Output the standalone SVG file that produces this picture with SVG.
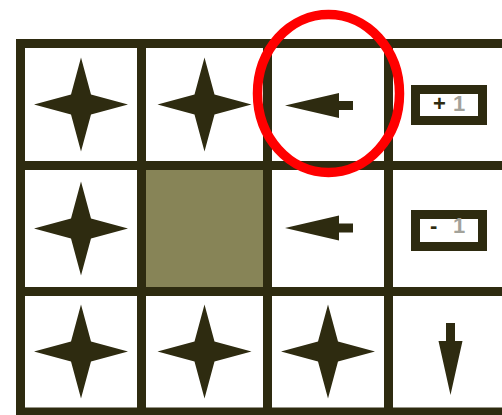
<svg xmlns="http://www.w3.org/2000/svg" width="502" height="415" viewBox="0 0 502 415">
<defs>
<style>
.grid line{stroke:#2e2b10;stroke-width:9}
.ink{fill:#2e2b10}
.box{fill:#ffffff;stroke:#2e2b10;stroke-width:9}
.lbl{font-family:"Liberation Sans",Arial,sans-serif;font-weight:bold;font-size:22px}
</style>
<path id="star" d="M0,-47 L10,-10 L47,0 L10,10 L0,47 L-10,10 L-47,0 L-10,-10 Z"/>
<path id="larrow" d="M0,0 L54,-12.5 L54,-4.5 L68,-4.5 L68,4.5 L54,4.5 L54,12.5 Z"/>
<path id="darrow" d="M0,0 L-12,-54 L-4.5,-54 L-4.5,-72 L4.5,-72 L4.5,-54 L12,-54 Z"/>
</defs>
<rect width="502" height="415" fill="#ffffff"/>
<g id="shaded-cell"><rect x="146" y="170" width="117" height="117" fill="#878457"/></g>
<g id="grid" class="grid">
<line x1="16" y1="43.5" x2="502" y2="43.5"/>
<line x1="16" y1="165.5" x2="502" y2="165.5"/>
<line x1="16" y1="291.5" x2="502" y2="291.5"/>
<line x1="16" y1="412" x2="502" y2="412"/>
<line x1="20.5" y1="39" x2="20.5" y2="415"/>
<line x1="141.5" y1="39" x2="141.5" y2="415"/>
<line x1="267.5" y1="39" x2="267.5" y2="415"/>
<line x1="388.5" y1="39" x2="388.5" y2="415"/>
</g>
<g id="cell-r1c1"><use href="#star" class="ink" transform="translate(81,104.5)"/></g>
<g id="cell-r1c2"><use href="#star" class="ink" transform="translate(204.5,104.5)"/></g>
<g id="cell-r1c3"><use href="#larrow" class="ink" transform="translate(285,105.5)"/></g>
<g id="cell-r1c4">
<rect class="box" x="415.5" y="89.5" width="67" height="31"/>
<text class="lbl" y="111"><tspan x="433" fill="#2e2b10">+</tspan><tspan x="453" fill="#a3a29a">1</tspan></text>
</g>
<g id="cell-r2c1"><use href="#star" class="ink" transform="translate(81,228.5)"/></g>
<g id="cell-r2c3"><use href="#larrow" class="ink" transform="translate(285,228)"/></g>
<g id="cell-r2c4">
<rect class="box" x="415.5" y="214.5" width="67" height="32"/>
<text class="lbl" y="233"><tspan x="430" fill="#2e2b10">-</tspan><tspan x="453" fill="#a3a29a">1</tspan></text>
</g>
<g id="cell-r3c1"><use href="#star" class="ink" transform="translate(81,351.5)"/></g>
<g id="cell-r3c2"><use href="#star" class="ink" transform="translate(204.5,351.5)"/></g>
<g id="cell-r3c3"><use href="#star" class="ink" transform="translate(328,351.5)"/></g>
<g id="cell-r3c4"><use href="#darrow" class="ink" transform="translate(450.5,395)"/></g>
<g id="highlight"><ellipse cx="328.5" cy="93.5" rx="71" ry="79" fill="none" stroke="#ff0000" stroke-width="9.5"/></g>
</svg>
